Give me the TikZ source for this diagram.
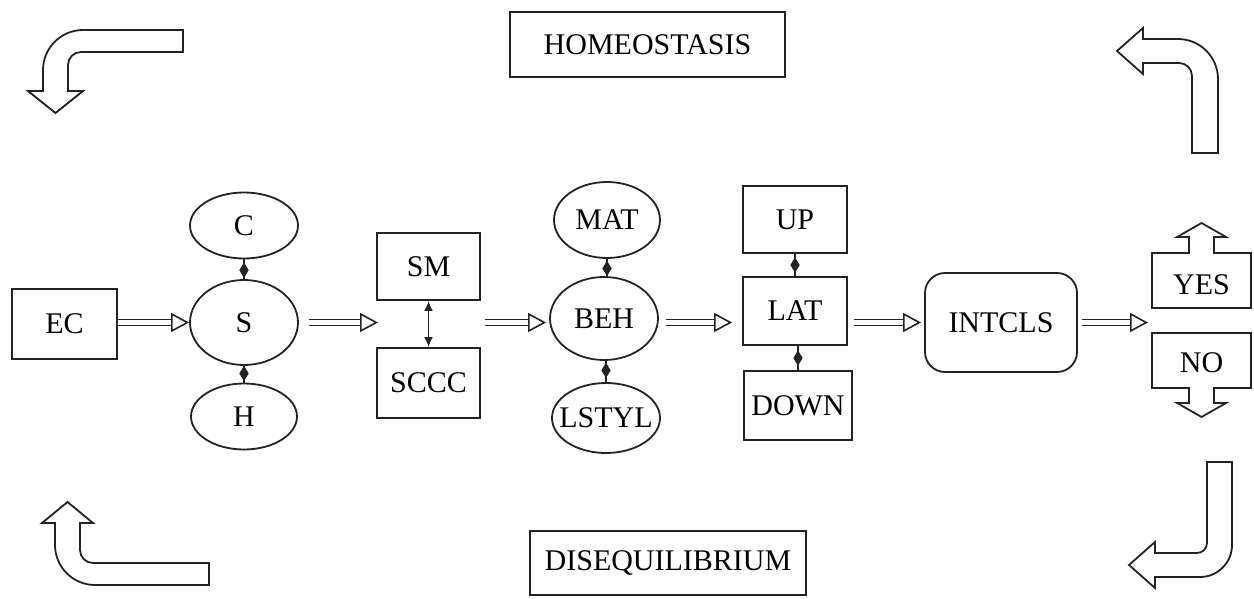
\documentclass[tikz,border=0pt]{standalone}
\usepackage{fontspec}
\setmainfont{Liberation Serif}
\usetikzlibrary{arrows.meta,shapes.geometric}
\definecolor{linec}{RGB}{35,35,35}
\begin{document}
\begin{tikzpicture}[x=1pt,y=-1pt,
  every node/.style={font=\fontsize{30}{33}\selectfont, text=black},
  box/.style={rectangle, draw=linec, line width=1.8pt, inner sep=0pt},
  ell/.style={ellipse, draw=linec, line width=1.8pt, inner xsep=-9pt, inner ysep=0pt},
  harrow/.style={draw=linec, line width=1.6pt, double=white, double distance=4.6pt,
    -{Triangle[open, length=18pt, width=19pt, line width=1.6pt]}},
  link/.style={draw=linec, line width=1.6pt},
  dlink/.style={draw=linec, line width=1.9pt, {Latex[length=10pt,width=9pt]}-{Latex[length=10pt,width=9pt]}},
  dmd/.style={diamond, fill=linec, draw=none, minimum width=10pt, minimum height=16pt, inner sep=0pt},
  outline/.style={draw=linec, line width=1.8pt, line join=miter}
]
\useasboundingbox (0,0) rectangle (1254,599);

% title boxes
\node[box, minimum width=275pt, minimum height=65pt] (homeo) at (647.5,44.5) {HOMEOSTASIS};
\node[box, minimum width=276pt, minimum height=64pt] (diseq) at (668,563) {DISEQUILIBRIUM};

% main row
\coordinate (row) at (0,322.5);
\node[box, minimum width=105pt, minimum height=70pt] (ec) at (64.5,324) {EC};
\node[ell, minimum width=108pt, minimum height=66pt] (c) at (244,225.5) {C};
\node[ell, minimum width=108pt, minimum height=85pt] (s) at (244,322.5) {S};
\node[ell, minimum width=106pt, minimum height=66pt] (h) at (244,416.5) {H};
\node[box, minimum width=103pt, minimum height=67pt] (sm) at (428.5,266.5) {SM};
\node[box, minimum width=103pt, minimum height=70pt] (sccc) at (428.5,383) {SCCC};
\node[ell, minimum width=106pt, minimum height=76pt] (mat) at (607,220) {MAT};
\node[ell, minimum width=108pt, minimum height=83pt] (beh) at (604,318.5) {BEH};
\node[ell, minimum width=108pt, minimum height=70pt] (lstyl) at (606,418) {LSTYL};
\node[box, minimum width=104pt, minimum height=67pt] (up) at (795,219.5) {\raisebox{-6pt}{UP}};
\node[box, minimum width=104pt, minimum height=68pt] (lat) at (795,311) {\raisebox{-6pt}{LAT}};
\node[box, minimum width=108pt, minimum height=69pt] (down) at (798,405.5) {DOWN};
\node[box, rounded corners=20pt, minimum width=152pt, minimum height=99pt] (intcls) at (1001,322.5) {INTCLS};

\coordinate (g1) at (378,322.5);
\coordinate (g2) at (485,322.5);
\coordinate (g3) at (1148,322.5);

% hollow arrows
\draw[harrow] (ec.east |- row) -- (s.west |- row);
\draw[harrow, shorten <=10pt] (s.east) -- (g1);
\draw[harrow, shorten >=3pt] (g2) -- (beh.west |- row);
\draw[harrow, shorten <=7pt, shorten >=10pt] (beh.east |- row) -- (lat.west |- row);
\draw[harrow, shorten <=6pt, shorten >=3pt] (lat.east |- row) -- (intcls.west |- row);
\draw[harrow, shorten <=4pt] (intcls.east |- row) -- (g3);

% diamond links
\draw[link] (c.south) -- (s.north) node[dmd, pos=0.55]{};
\draw[link] (s.south) -- (h.north) node[dmd, pos=0.45]{};
\draw[link] (mat.south) -- (mat.south |- beh.north) node[dmd, pos=0.55]{};
\draw[link] (lstyl.north |- beh.south) -- (lstyl.north) node[dmd, pos=0.45]{};
\draw[link] (up.south) -- (up.south |- lat.north) node[dmd, pos=0.5]{};
\draw[link] ([xshift=3pt]lat.south) -- ([xshift=3pt]lat.south |- down.north) node[dmd, pos=0.5]{};
\draw[dlink] (sm.south) -- (sccc.north);

% YES / NO shapes
\draw[outline] (1152,253) -- (1189,253) -- (1189,237) -- (1177,237) -- (1201.5,223)
  -- (1226,237) -- (1214,237) -- (1214,253) -- (1251,253) -- (1251,308) -- (1152,308) -- cycle;
\node (yes) at (1201.5,285) {YES};
\draw[outline] (1152,333) -- (1251,333) -- (1251,388) -- (1214,388) -- (1214,403) -- (1226,403)
  -- (1201.5,417) -- (1177,403) -- (1189,403) -- (1189,388) -- (1152,388) -- cycle;
\node (no) at (1201.5,363) {NO};

% corner arrows
\draw[outline] (183,30) -- (83,30) .. controls (61,30) and (43,48) .. (43,70) -- (43,91)
  -- (28,91) -- (55.5,113) -- (83,91) -- (68,91) -- (68,65)
  .. controls (68,57.8) and (73.8,52) .. (81,52) -- (183,52) -- cycle;
\draw[outline] (1192,153) -- (1192,76) .. controls (1192,68.8) and (1186.2,63) .. (1179,63)
  -- (1143,63) -- (1143,74) -- (1117,51) -- (1143,28) -- (1143,39) -- (1178,39)
  .. controls (1200,39) and (1218,57) .. (1218,79) -- (1218,153) -- cycle;
\draw[outline] (1207,462) -- (1207,543) .. controls (1207,548.5) and (1202.5,553) .. (1197,553)
  -- (1155,553) -- (1155,542) -- (1129,565) -- (1155,588) -- (1155,577) -- (1200,577)
  .. controls (1217.7,577) and (1232,562.7) .. (1232,545) -- (1232,462) -- cycle;
\draw[outline] (209,563) -- (93,563) .. controls (85.8,563) and (80,557.2) .. (80,550)
  -- (80,523) -- (93,523) -- (67.5,502) -- (42,523) -- (55,523) -- (55,545)
  .. controls (55,567) and (73,585) .. (95,585) -- (209,585) -- cycle;
\end{tikzpicture}
\end{document}
